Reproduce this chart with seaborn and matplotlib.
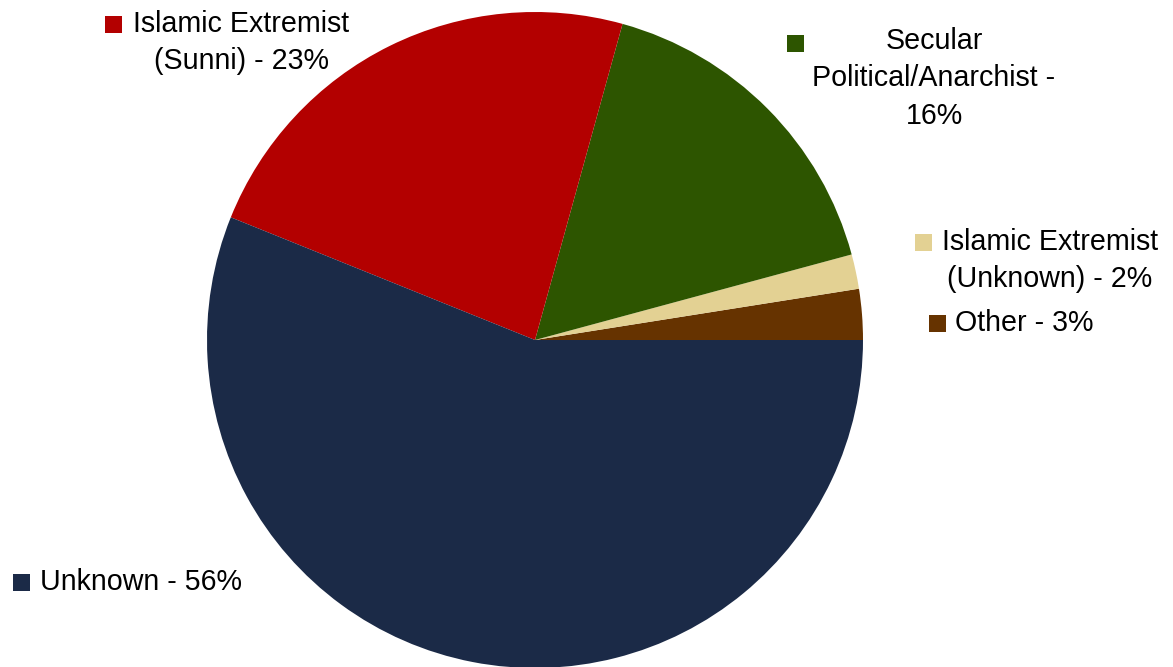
import matplotlib.pyplot as plt
import seaborn as sns
from matplotlib.patches import Rectangle

# Data (counterclockwise from 3 o'clock)
categories = ["Other", "Islamic Extremist (Unknown)", "Secular Political/Anarchist",
              "Islamic Extremist (Sunni)", "Unknown"]
shares = [2.5, 1.7, 16.5, 23.2, 56.1]
label_texts = ["Other - 3%", "Islamic Extremist\n(Unknown) - 2%",
               "Secular\nPolitical/Anarchist -\n16%", "Islamic Extremist\n(Sunni) - 23%",
               "Unknown - 56%"]
colors = ["#663300", "#E3D193", "#2D5500", "#B30000", "#1B2A47"]

sns.set_theme(style="white")
plt.rcParams['font.family'] = ['Liberation Sans', 'DejaVu Sans']

fig = plt.figure(figsize=(11.73, 6.67), dpi=100)
ax = fig.add_axes([0, 0, 1, 1])

ax.pie(shares, colors=colors, startangle=0, counterclock=False,
       center=(535, 340), radius=328, frame=True,
       wedgeprops=dict(linewidth=0))
ax.set_xlim(0, 1173)
ax.set_ylim(667, 0)
ax.set_aspect('equal')
ax.axis('off')

# label layout: text anchor (x, y), alignment, square position (x, y)
layout = [
    ((955, 323), 'left', (929, 315)),
    ((1050, 260.5), 'center', (915, 234)),
    ((934, 78.5), 'center', (787, 35)),
    ((241, 42.5), 'center', (105, 16)),
    ((40, 582), 'left', (13, 574)),
]

for txt, col, (tpos, ha, spos) in zip(label_texts, colors, layout):
    ax.text(tpos[0], tpos[1], txt, ha=ha, va='center', multialignment='center',
            fontsize=20.6, color='black', linespacing=1.45)
    ax.add_patch(Rectangle(spos, 17, 17, facecolor=col, edgecolor='none'))

fig.savefig("out.png", dpi=100)
